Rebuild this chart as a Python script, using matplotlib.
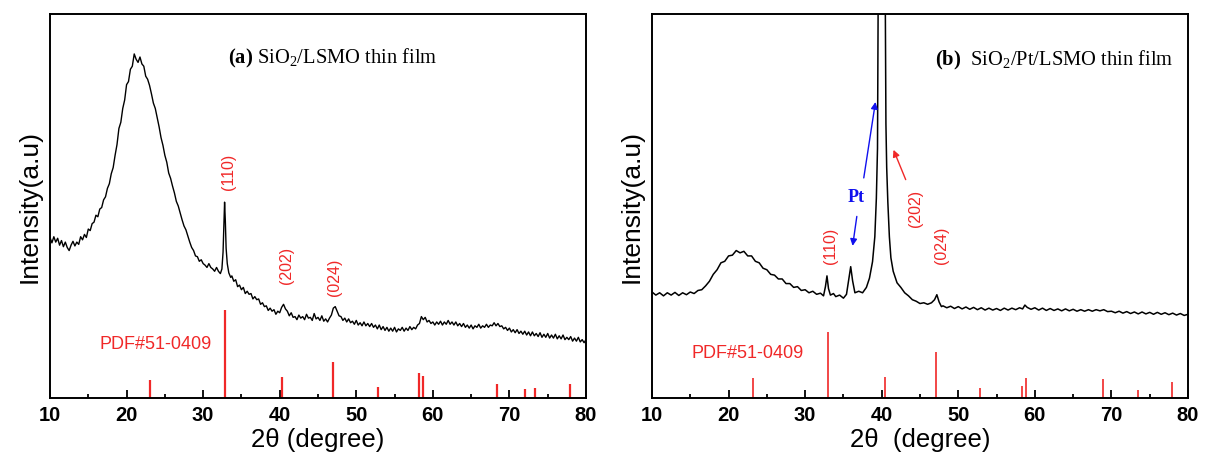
import matplotlib
matplotlib.use("Agg")
import matplotlib.pyplot as plt

plt.rcParams['font.family'] = ['Liberation Sans', 'DejaVu Sans']
plt.rcParams['mathtext.fontset'] = 'custom'
plt.rcParams['mathtext.rm'] = 'Liberation Serif'
plt.rcParams['mathtext.bf'] = 'Liberation Serif:bold'

# ---------------- data: panel (a) ----------------
a_x = [10.0, 10.25, 10.5, 10.75, 11.0, 11.25, 11.5, 11.75, 12.0, 12.25, 12.5, 12.75, 13.0, 13.25, 13.5,
       13.75, 14.0, 14.25, 14.5, 14.75, 15.0, 15.25, 15.5, 15.75, 16.0, 16.25, 16.5, 16.75, 17.0, 17.25,
       17.5, 17.75, 18.0, 18.25, 18.5, 18.75, 19.0, 19.25, 19.5, 19.75, 20.0, 20.25, 20.5, 20.75, 21.0,
       21.25, 21.5, 21.75, 22.0, 22.25, 22.5, 22.75, 23.0, 23.25, 23.5, 23.75, 24.0, 24.25, 24.5, 24.75,
       25.0, 25.25, 25.5, 25.75, 26.0, 26.25, 26.5, 26.75, 27.0, 27.25, 27.5, 27.75, 28.0, 28.25, 28.5,
       28.75, 29.0, 29.25, 29.5, 29.75, 30.0, 30.25, 30.5, 30.75, 31.0, 31.25, 31.5, 31.75, 32.0, 32.25,
       32.45, 32.6, 32.7, 32.8, 32.9, 33.0, 33.15, 33.35, 33.6, 33.75, 34.0, 34.25, 34.5, 34.75, 35.0,
       35.25, 35.5, 35.75, 36.0, 36.25, 36.5, 36.75, 37.0, 37.25, 37.5, 37.75, 38.0, 38.25, 38.5, 38.75,
       39.0, 39.25, 39.5, 39.75, 40.0, 40.25, 40.5, 40.75, 41.0, 41.25, 41.5, 41.75, 42.0, 42.25, 42.5,
       42.75, 43.0, 43.25, 43.5, 43.75, 44.0, 44.25, 44.5, 44.75, 45.0, 45.25, 45.5, 45.75, 46.0, 46.25,
       46.5, 46.75, 47.0, 47.25, 47.5, 47.75, 48.0, 48.25, 48.5, 48.75, 49.0, 49.25, 49.5, 49.75, 50.0,
       50.25, 50.5, 50.75, 51.0, 51.25, 51.5, 51.75, 52.0, 52.25, 52.5, 52.75, 53.0, 53.25, 53.5, 53.75,
       54.0, 54.25, 54.5, 54.75, 55.0, 55.25, 55.5, 55.75, 56.0, 56.25, 56.5, 56.75, 57.0, 57.25, 57.5,
       57.75, 58.0, 58.25, 58.5, 58.75, 59.0, 59.25, 59.5, 59.75, 60.0, 60.25, 60.5, 60.75, 61.0, 61.25,
       61.5, 61.75, 62.0, 62.25, 62.5, 62.75, 63.0, 63.25, 63.5, 63.75, 64.0, 64.25, 64.5, 64.75, 65.0,
       65.25, 65.5, 65.75, 66.0, 66.25, 66.5, 66.75, 67.0, 67.25, 67.5, 67.75, 68.0, 68.25, 68.5, 68.75,
       69.0, 69.25, 69.5, 69.75, 70.0, 70.25, 70.5, 70.75, 71.0, 71.25, 71.5, 71.75, 72.0, 72.25, 72.5,
       72.75, 73.0, 73.25, 73.5, 73.75, 74.0, 74.25, 74.5, 74.75, 75.0, 75.25, 75.5, 75.75, 76.0, 76.25,
       76.5, 76.75, 77.0, 77.25, 77.5, 77.75, 78.0, 78.25, 78.5, 78.75, 79.0, 79.25, 79.5, 79.75, 80.0]
a_y = [41.8, 40.4, 42.0, 40.6, 41.6, 39.8, 41.0, 39.4, 40.6, 39.2, 38.4, 39.8, 40.8, 39.6, 40.6,
       40.0, 42.0, 41.2, 42.6, 41.8, 44.0, 43.6, 45.4, 45.8, 47.6, 47.2, 49.2, 49.6, 51.6, 52.4,
       54.6, 55.8, 58.4, 60.0, 63.2, 66.0, 70.2, 71.8, 75.4, 77.6, 81.6, 82.4, 85.6, 86.4, 89.6,
       88.2, 87.4, 88.8, 87.0, 86.4, 83.8, 83.0, 81.4, 79.2, 76.8, 75.4, 73.0, 70.6, 67.8, 65.8,
       63.2, 61.4, 58.6, 57.2, 55.2, 53.4, 51.2, 50.0, 48.2, 46.4, 44.8, 43.8, 42.2, 40.6, 39.2,
       38.4, 37.0, 36.8, 35.6, 36.0, 35.0, 34.6, 34.0, 35.0, 34.0, 33.6, 33.0, 34.0, 33.0, 32.4,
       33.6, 38.0, 45.0, 51.0, 46.0, 39.0, 35.0, 32.6, 31.4, 31.8, 30.4, 30.8, 29.0, 29.4, 28.2,
       28.8, 27.2, 27.8, 27.0, 27.2, 25.8, 26.4, 25.6, 25.8, 24.4, 24.8, 23.8, 24.0, 22.8, 23.4,
       22.6, 23.0, 21.8, 22.6, 22.2, 23.6, 24.4, 23.2, 22.6, 21.4, 22.2, 21.0, 21.2, 20.4, 21.6,
       20.8, 21.2, 20.4, 21.8, 20.8, 21.0, 20.2, 22.0, 20.6, 21.0, 20.2, 21.4, 20.0, 20.6, 19.8,
       20.8, 21.6, 23.4, 23.8, 22.6, 21.4, 21.2, 20.2, 20.8, 19.8, 20.6, 19.6, 20.0, 19.2, 20.2,
       19.0, 19.6, 18.8, 19.8, 18.8, 19.4, 18.6, 19.4, 18.4, 19.0, 18.0, 19.0, 17.8, 18.6, 17.6,
       18.4, 17.4, 18.2, 17.4, 18.4, 17.2, 18.0, 17.6, 18.4, 17.4, 18.2, 17.6, 18.6, 17.8, 18.4,
       18.0, 19.0, 19.4, 21.2, 20.4, 21.0, 19.8, 20.2, 19.4, 19.8, 19.0, 19.8, 19.2, 20.0, 19.0,
       19.8, 19.2, 20.2, 19.2, 19.8, 19.0, 19.8, 18.8, 19.4, 18.6, 19.4, 18.4, 19.0, 18.2, 19.0,
       18.0, 18.8, 18.4, 19.2, 18.2, 18.8, 18.4, 19.2, 18.4, 19.0, 18.8, 19.6, 18.8, 19.4, 18.6,
       18.8, 18.0, 18.4, 17.6, 18.2, 17.2, 17.8, 17.0, 17.8, 16.8, 17.4, 16.6, 17.4, 16.4, 17.2,
       16.2, 17.2, 16.2, 16.8, 16.0, 17.0, 15.8, 16.6, 15.8, 16.8, 15.6, 16.4, 15.6, 16.6, 15.4,
       16.2, 15.4, 16.4, 15.2, 15.8, 15.2, 16.0, 14.8, 15.6, 14.8, 15.8, 14.6, 15.2, 14.4, 15.2]
a_ref_pos = [23.0, 32.8, 40.3, 47.0, 52.8, 58.2, 58.7, 68.4, 72.0, 73.3, 77.9]
a_ref_int = [4.6, 22.8, 5.4, 9.4, 2.8, 6.4, 5.7, 3.6, 2.4, 2.6, 3.7]
a_hkl = ["(110)", "(202)", "(024)"]
a_hkl_pos = [(33.35, 58.8), (40.9, 34.5), (47.1, 31.5)]

# ---------------- data: panel (b) ----------------
b_x = [10, 10.5, 11, 11.5, 12, 12.5, 13, 13.5, 14, 14.5, 15, 15.5, 16, 16.5, 17, 17.5, 18, 18.5, 19, 19.5,
       20, 20.5, 21, 21.5, 22, 22.5, 23, 23.5, 24, 24.5, 25, 25.5, 26, 26.5, 27, 27.5, 28, 28.5, 29, 29.5,
       30, 30.5, 31, 31.5, 32, 32.4, 32.65, 32.85, 33.05, 33.3, 33.7, 34, 34.5, 35, 35.4, 35.7, 35.95, 36.2,
       36.5, 37, 37.5, 38, 38.4, 38.8, 39.1, 39.3, 39.45, 39.55, 39.8, 40.2, 40.45, 40.55, 40.65, 40.8, 41.0,
       41.2, 41.5, 42, 42.5, 43, 43.5, 44, 44.5, 45, 45.5, 46, 46.5, 46.9, 47.2, 47.5, 47.8, 48, 48.5, 49,
       49.5, 50, 50.5, 51, 51.5, 52, 52.5, 53, 53.5, 54, 54.5, 55, 55.5, 56, 56.5, 57, 57.5, 58, 58.4, 58.7,
       59, 59.5, 60, 60.5, 61, 61.5, 62, 62.5, 63, 63.5, 64, 64.5, 65, 65.5, 66, 66.5, 67, 67.5, 68, 68.5,
       69, 69.5, 70, 70.5, 71, 71.5, 72, 72.5, 73, 73.5, 74, 74.5, 75, 75.5, 76, 76.5, 77, 77.5, 78, 78.5,
       79, 79.5, 80]
b_y = [27.6, 26.8, 27.4, 26.6, 27.4, 26.8, 27.5, 26.7, 27.4, 26.9, 27.6, 27.2, 28.0, 28.2, 29.2, 30.4, 32.2,
       33.4, 35.2, 35.6, 37.0, 37.2, 38.4, 37.8, 38.2, 37.0, 37.0, 35.6, 35.2, 33.8, 33.4, 32.2, 32.0, 31.0,
       31.0, 29.8, 29.8, 28.8, 29.0, 28.0, 28.2, 27.4, 27.8, 27.0, 27.3, 26.6, 29.0, 31.8, 28.5, 26.8, 27.2,
       26.4, 26.8, 26.0, 27.0, 31.0, 34.2, 30.5, 27.4, 27.8, 27.4, 28.8, 31.2, 35.5, 42.0, 52.0, 65.0, 110.0,
       160.0, 160.0, 110.0, 71.4, 60.0, 51.0, 42.0, 36.5, 33.0, 30.0, 28.8, 27.4, 26.6, 25.6, 25.2, 24.6,
       24.8, 24.4, 24.8, 25.6, 26.9, 25.0, 23.8, 24.0, 23.5, 23.9, 23.3, 23.8, 23.2, 23.7, 23.1, 23.6, 23.0,
       23.5, 22.9, 23.4, 22.9, 23.3, 22.8, 23.4, 22.9, 23.4, 23.0, 23.5, 23.2, 24.2, 23.6, 23.1, 23.5, 22.9,
       23.4, 22.8, 23.3, 22.8, 23.2, 22.7, 23.2, 22.7, 23.1, 22.6, 23.0, 22.6, 23.0, 22.6, 23.0, 22.7, 23.0,
       22.5, 22.6, 22.2, 22.6, 22.1, 22.5, 22.0, 22.4, 21.9, 22.4, 21.9, 22.3, 21.8, 22.3, 21.8, 22.2, 21.7,
       22.1, 21.6, 22.0, 21.5, 21.8]
b_ref_pos = [23.2, 33.0, 40.45, 47.07, 52.84, 58.3, 58.9, 68.9, 73.5, 77.95]
b_ref_int = [5.1, 17.3, 5.5, 11.9, 2.6, 3.2, 5.1, 5.0, 2.0, 4.2]
b_hkl = ["(110)", "(202)", "(024)"]
b_hkl_pos = [(33.25, 39.7), (44.4, 49.3), (47.8, 39.7)]

xticks_major = [10, 20, 30, 40, 50, 60, 70, 80]
xticks_minor = [15, 25, 35, 45, 55, 65, 75]

RED = '#f02828'

fig = plt.figure(figsize=(12.05, 4.58), dpi=100)
axa = fig.add_axes([50 / 1205, 1 - 398 / 458, 536 / 1205, 384 / 458])
axb = fig.add_axes([652 / 1205, 1 - 398 / 458, 536 / 1205, 384 / 458])


def style(ax):
    ax.set_xlim(10, 80)
    ax.set_ylim(0, 100)
    ax.set_xticks(xticks_major)
    ax.set_xticks(xticks_minor, minor=True)
    ax.set_yticks([])
    ax.tick_params(axis='x', which='major', direction='in', length=6, width=1.3, pad=6,
                   labelsize=14.5)
    ax.tick_params(axis='x', which='minor', direction='in', length=3, width=1.3)
    for lbl in ax.get_xticklabels():
        lbl.set_fontweight('bold')
    for s in ax.spines.values():
        s.set_linewidth(1.4)
    ax.set_ylabel('Intensity(a.u)', fontsize=19, labelpad=6)


# panel (a)
axa.plot(a_x, a_y, color='black', lw=1.0)
axa.vlines(a_ref_pos, 0, a_ref_int, color=RED, lw=1.6)
for t, (x, y) in zip(a_hkl, a_hkl_pos):
    axa.text(x, y, t, color=RED, fontsize=11.5, rotation=90, ha='center', va='center')
axa.text(16.5, 14, 'PDF#51-0409', color=RED, fontsize=13, ha='left', va='center')
axa.text(33.3, 88.5, r'$\mathbf{(a)}$ SiO$_2$/LSMO thin film', fontsize=14.8,
         family='Liberation Serif', ha='left', va='center')
style(axa)
axa.set_xlabel('2θ (degree)', fontsize=18.5, labelpad=2)

# panel (b)
axb.plot(b_x, b_y, color='black', lw=1.1)
axb.vlines(b_ref_pos, 0, b_ref_int, color=RED, lw=1.2)
for t, (x, y) in zip(b_hkl, b_hkl_pos):
    axb.text(x, y, t, color=RED, fontsize=11.5, rotation=90, ha='center', va='center')
axb.text(15.2, 11.6, 'PDF#51-0409', color=RED, fontsize=13, ha='left', va='center')
axb.text(47.0, 87.8, r'$\mathbf{(b)}$  SiO$_2$/Pt/LSMO thin film', fontsize=14.8,
         family='Liberation Serif', ha='left', va='center')
axb.text(36.6, 52.3, 'Pt', color='#1010ee', fontsize=13, fontweight='bold',
         family='Liberation Serif', ha='center', va='center')
arrow_blue = dict(arrowstyle='-|>', color='#1010ee', lw=1.0, mutation_scale=10)
axb.annotate('', xy=(39.24, 77.8), xytext=(37.6, 56.6), arrowprops=arrow_blue)
axb.annotate('', xy=(36.15, 38.9), xytext=(36.8, 48.0), arrowprops=arrow_blue)
axb.annotate('', xy=(41.4, 65.3), xytext=(43.27, 56.2),
             arrowprops=dict(arrowstyle='-|>', color=RED, lw=1.0, mutation_scale=10))
style(axb)
axb.set_xlabel('2θ  (degree)', fontsize=18.5, labelpad=2)

fig.savefig('out.png', dpi=100, facecolor='white')
